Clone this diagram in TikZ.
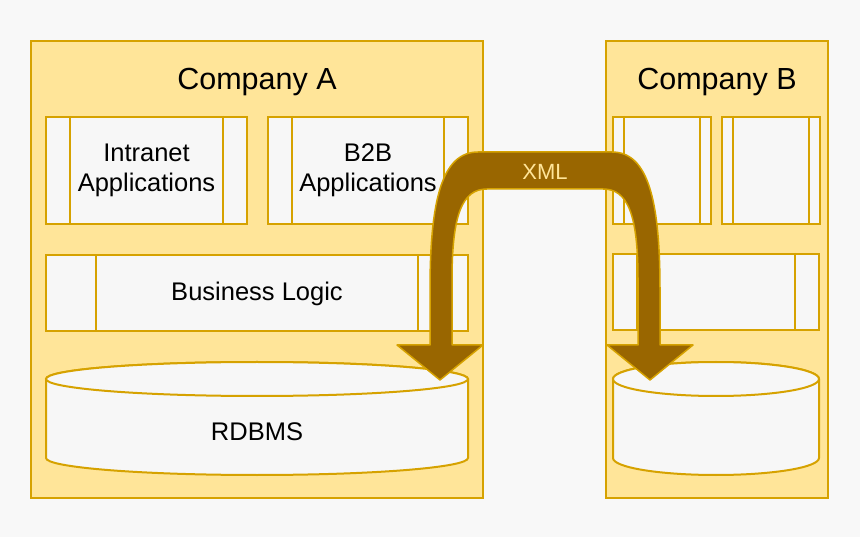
\documentclass[tikz,border=0pt]{standalone}
\usepackage{fontspec}
\setmainfont{Liberation Sans}
\usetikzlibrary{positioning}
\definecolor{bgGray}{HTML}{F8F8F8}
\definecolor{compFill}{HTML}{FFE599}
\definecolor{compLine}{HTML}{D6A200}
\definecolor{boxFill}{HTML}{F7F7F7}
\definecolor{xmlFill}{HTML}{996600}
\newcommand{\sidebars}[2]{%
  \draw[bar] ([xshift=#2]#1.north west) -- ([xshift=#2]#1.south west);
  \draw[bar] ([xshift=-#2]#1.north east) -- ([xshift=-#2]#1.south east);}
% drum: centre x, half width, top y, bottom y
\newcommand{\drum}[4]{%
  \filldraw[db] (#1-#2,#3+17) -- (#1-#2,#4-17)
    arc[start angle=180,end angle=0,x radius=#2,y radius=17]
    -- (#1+#2,#3+17)
    arc[start angle=0,end angle=-180,x radius=#2,y radius=17] -- cycle;
  \draw[db] (#1,#3+17) ellipse[x radius=#2,y radius=17];}

\begin{document}
\begin{tikzpicture}[x=1pt,y=-1pt]

\tikzset{
	company/.style={
		draw=compLine,
		fill=compFill,
		rectangle,
		line width=2pt,
		inner sep=0pt,
		minimum height=457pt},
	title/.style={
		font=\fontsize{30.5}{36}\selectfont},
	proc/.style={
		draw=compLine,
		fill=boxFill,
		rectangle,
		line width=2pt,
		inner sep=0pt,
		align=center,
		font=\fontsize{25.5}{30}\selectfont},
	bar/.style={
		draw=compLine,
		line width=2pt},
	db/.style={
		draw=compLine,
		fill=boxFill,
		line width=2pt},
	dbtext/.style={
		font=\fontsize{25.5}{30}\selectfont},
	xmlarrow/.style={
		draw=compLine,
		fill=xmlFill,
		line width=1.5pt,
		line join=round},
	xmltext/.style={
		text=compFill,
		font=\fontsize{22}{26}\selectfont}
}

\fill[bgGray] (0,0) rectangle (860,537);
\useasboundingbox (0,0) rectangle (860,537);

% company A
\node[company,minimum width=452pt] (compA) at (257,269.5) {};
\node[title,below=42pt of compA.north,anchor=center] (titleA) {Company A};

\node[proc,minimum width=201pt,minimum height=107pt] (intra) at (146.5,170.5) {Intranet\\Applications};
\sidebars{intra}{25pt}
\node[proc,minimum width=200pt,minimum height=107pt,right=221.5pt of intra.center,anchor=center] (b2b) {B2B\\Applications};
\sidebars{b2b}{25pt}

\node[proc,minimum width=422pt,minimum height=76pt] (logicA) at (257,293.5) {Business Logic};
\sidebars{logicA}{51pt}

\drum{257}{211}{362}{475}
\node[dbtext] (rdbms) at (257,431.5) {RDBMS};

% company B
\node[company,minimum width=222pt] (compB) at (717,269.5) {};
\node[title,below=42pt of compB.north,anchor=center] (titleB) {Company B};

\node[proc,minimum width=98pt,minimum height=107pt] (appB1) at (662,170.5) {};
\sidebars{appB1}{12pt}
\node[proc,minimum width=98pt,minimum height=107pt,right=109pt of appB1.center,anchor=center] (appB2) {};
\sidebars{appB2}{12pt}

\node[proc,minimum width=206pt,minimum height=76pt] (logicB) at (716,292) {};
\sidebars{logicB}{25pt}

\drum{716}{103}{362}{475}

% xml transfer
\draw[xmlarrow] (440,380) -- (397,345) -- (430,345) -- (430,290)
  .. controls (430,200) and (442,152) .. (478,152) -- (612,152)
  .. controls (648,152) and (660,200) .. (660,290) -- (660,345)
  -- (693,345) -- (650,380) -- (607,345) -- (638,345) -- (638,280)
  .. controls (638,215) and (628,189) .. (603,189) -- (487,189)
  .. controls (462,189) and (452,215) .. (452,280) -- (452,345)
  -- (483,345) -- cycle;
\node[xmltext] (xml) at (545,172) {XML};

\end{tikzpicture}
\end{document}
